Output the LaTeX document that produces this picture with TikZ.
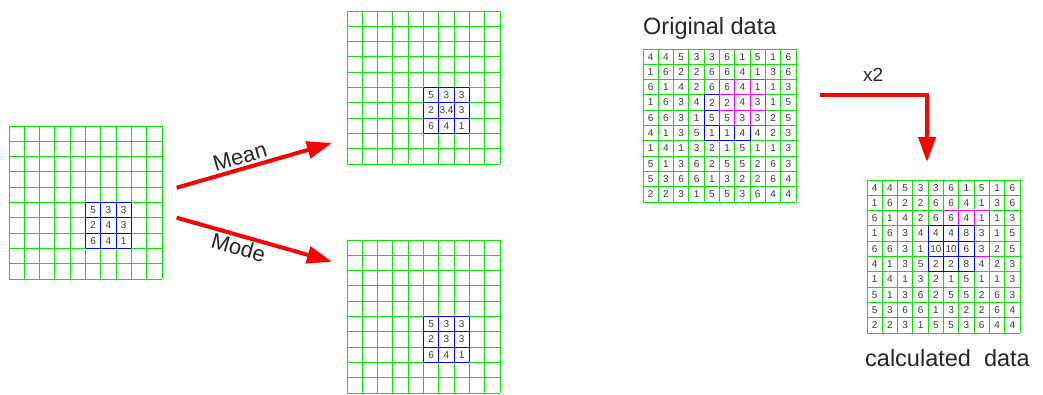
\documentclass[tikz,border=0pt]{standalone}
\usepackage{fontspec}
\setmainfont{Liberation Sans}
\usetikzlibrary{arrows.meta}
\definecolor{ggreen}{RGB}{0,235,0}
\definecolor{gblue}{RGB}{0,0,255}
\definecolor{gmag}{RGB}{255,0,255}
\definecolor{numgray}{RGB}{60,60,60}
\definecolor{ared}{RGB}{255,0,0}
\tikzset{
  gline/.style={ggreen, line width=1pt},
  bline/.style={gblue, line width=1pt},
  mline/.style={gmag, line width=1pt},
  num/.style={inner sep=0pt, text=numgray, font=\fontsize{10}{11}\selectfont},
  label/.style={inner sep=0pt, text=black!85, font=\fontsize{22}{24}\selectfont},
  biglabel/.style={inner sep=0pt, text=black!85, font=\fontsize{23.5}{25}\selectfont},
  bigarrow/.style={ared, line width=4pt, -{Triangle[length=25pt,width=17pt]}},
  pics/grid10/.style={code={
    \foreach \i in {0,...,10} {
      \draw[gline] (\i*15.3,0) -- (\i*15.3,153);
      \draw[gline] (0,\i*15.3) -- (153,\i*15.3);
    }
  }},
  pics/grid3/.style={code={
    \foreach \i in {0,...,3} {
      \draw[#1] (\i*15.3,0) -- (\i*15.3,45.9);
      \draw[#1] (0,\i*15.3) -- (45.9,\i*15.3);
    }
  }},
}
\begin{document}
\begin{tikzpicture}[x=1pt,y=-1pt]
\useasboundingbox (0,0) rectangle (1043,394);

% ---------- left grid ----------
\pic at (9,126) {grid10};
\pic at (85.5,202.5) {grid3=bline};
\foreach \row [count=\r from 0] in {{5,3,3},{2,4,3},{6,4,1}} {
  \foreach \v [count=\c from 0] in \row {
    \node[num] (a-\r-\c) at (85.5+\c*15.3+7.65, 202.5+\r*15.3+7.65) {\v};
  }
}

% ---------- top middle grid (mean) ----------
\pic at (347,11) {grid10};
\pic at (423.5,87.5) {grid3=bline};
\foreach \row [count=\r from 0] in {{5,3,3},{2,3.4,3},{6,4,1}} {
  \foreach \v [count=\c from 0] in \row {
    \node[num] (b-\r-\c) at (423.5+\c*15.3+7.65, 87.5+\r*15.3+7.65) {\v};
  }
}

% ---------- bottom middle grid (mode) ----------
\pic at (347,240) {grid10};
\pic at (423.5,316.5) {grid3=bline};
\foreach \row [count=\r from 0] in {{5,3,3},{2,3,3},{6,4,1}} {
  \foreach \v [count=\c from 0] in \row {
    \node[num] (m-\r-\c) at (423.5+\c*15.3+7.65, 316.5+\r*15.3+7.65) {\v};
  }
}

% ---------- original data ----------
\pic at (643,49) {grid10};
\pic at (704.2,94.9) {grid3=bline};
\pic at (719.5,79.6) {grid3=mline};
\foreach \row [count=\r from 0] in {
  {4,4,5,3,3,6,1,5,1,6},
  {1,6,2,2,6,6,4,1,3,6},
  {6,1,4,2,6,6,4,1,1,3},
  {1,6,3,4,2,2,4,3,1,5},
  {6,6,3,1,5,5,3,3,2,5},
  {4,1,3,5,1,1,4,4,2,3},
  {1,4,1,3,2,1,5,1,1,3},
  {5,1,3,6,2,5,5,2,6,3},
  {5,3,6,6,1,3,2,2,6,4},
  {2,2,3,1,5,5,3,6,4,4}} {
  \foreach \v [count=\c from 0] in \row {
    \node[num] (o-\r-\c) at (643+\c*15.3+7.65, 49+\r*15.3+7.65) {\v};
  }
}
\node[biglabel, anchor=base west] (origlab) at (643,34) {Original data};

% ---------- calculated data ----------
\pic at (867,180) {grid10};
\pic at (943.5,210.6) {grid3=mline};
\pic at (928.2,225.9) {grid3=bline};
\foreach \row [count=\r from 0] in {
  {4,4,5,3,3,6,1,5,1,6},
  {1,6,2,2,6,6,4,1,3,6},
  {6,1,4,2,6,6,4,1,1,3},
  {1,6,3,4,4,4,8,3,1,5},
  {6,6,3,1,10,10,6,3,2,5},
  {4,1,3,5,2,2,8,4,2,3},
  {1,4,1,3,2,1,5,1,1,3},
  {5,1,3,6,2,5,5,2,6,3},
  {5,3,6,6,1,3,2,2,6,4},
  {2,2,3,1,5,5,3,6,4,4}} {
  \foreach \v [count=\c from 0] in \row {
    \node[num] (c-\r-\c) at (867+\c*15.3+7.65, 180+\r*15.3+7.65) {\v};
  }
}
\node[biglabel, anchor=base west] (calclab) at (865,366.5) {calculated\ \ data};

% ---------- arrows ----------
\coordinate (meanS) at (176.7,187.7);
\coordinate (meanE) at (332,143);
\coordinate (modeS) at (176.7,217.7);
\coordinate (modeE) at (332,261.7);
\coordinate (x2S) at (820,95);
\coordinate (x2E) at (927,162);
\draw[bigarrow] (meanS) -- (meanE);
\draw[bigarrow] (modeS) -- (modeE);
\draw[bigarrow] (x2S) -| (x2E);

\node[label, rotate=16] (meanlab) at (240,157) {Mean};
\node[label, rotate=-16] (modelab) at (238.5,247.5) {Mode};
\node[label, anchor=base west, font=\fontsize{19}{20}\selectfont] (x2lab) at (863,81) {x2};
\end{tikzpicture}
\end{document}
